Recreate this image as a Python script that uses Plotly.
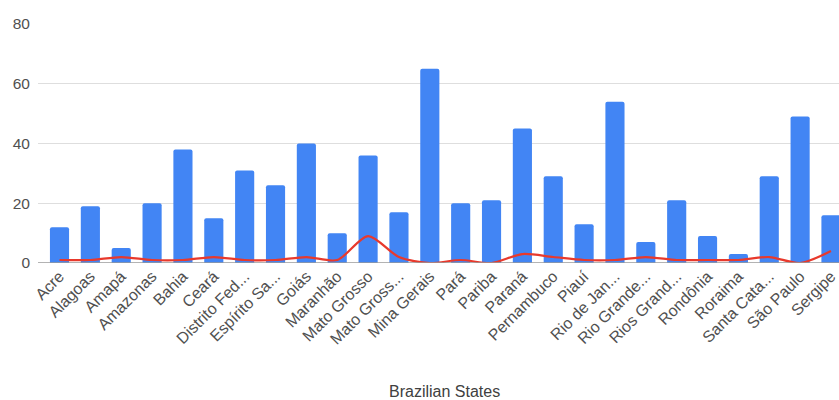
import plotly.graph_objects as go

states = ["Acre", "Alagoas", "Amapá", "Amazonas", "Bahia", "Ceará", "Distrito Fed...",
          "Espírito Sa...", "Goiás", "Maranhão", "Mato Grosso", "Mato Gross...",
          "Mina Gerais", "Pará", "Pariba", "Paraná", "Pernambuco", "Piauí",
          "Rio de Jan...", "Rio Grande...", "Rios Grand...", "Rondônia", "Roraima",
          "Santa Cata...", "São Paulo", "Sergipe"]
bar_values = [12, 19, 5, 20, 38, 15, 31, 26, 40, 10, 36, 17, 65, 20, 21, 45, 29, 13,
              54, 7, 21, 9, 3, 29, 49, 16]
line_values = [1, 1, 2, 1, 1, 2, 1, 1, 2, 1, 9, 2, 0, 1, 0, 3, 2, 1, 1, 2, 1, 1, 1, 2, 0, 4]
y_ticks = [0, 20, 40, 60, 80]
x_title = "Brazilian States"

fig = go.Figure()
fig.add_trace(go.Bar(x=list(range(len(states))), y=bar_values,
                     marker=dict(color="#4285f4", line=dict(width=0)),
                     showlegend=False))
fig.add_trace(go.Scatter(x=list(range(len(states))), y=line_values, mode="lines",
                         line=dict(color="#e8392c", width=2.2, shape="spline", smoothing=0.8),
                         showlegend=False))

fig.update_layout(
    width=839, height=400,
    margin=dict(l=38, r=0, t=24, b=137),
    paper_bgcolor="white", plot_bgcolor="white",
    bargap=0.38,
    barcornerradius=2,
    font=dict(family="Liberation Sans, Arial, sans-serif", color="#444"),
    xaxis=dict(
        range=[-0.697, 25.26],
        tickmode="array", tickvals=list(range(len(states))), ticktext=states,
        tickangle=-45, tickfont=dict(size=16, color="#505050"),
        showgrid=False, showline=False, zeroline=False, ticks="",
    ),
    yaxis=dict(
        range=[0, 80], tickvals=y_ticks,
        tickfont=dict(size=15.5, color="#505050"),
        showgrid=True, gridcolor="#dedede", gridwidth=1.3,
        zeroline=False, showline=False, ticks="", ticklabelstandoff=7,
    ),
    shapes=[dict(type="line", xref="paper", yref="y", x0=0, x1=1, y0=0, y1=0,
                 line=dict(color="#9a9a9a", width=1.5), layer="above")],
    annotations=[dict(text=x_title, xref="paper", yref="paper", x=0.507, y=-0.5356,
                      xanchor="center", yanchor="middle", showarrow=False,
                      font=dict(size=16, color="#404040"))],
)

fig.write_html("out.html")
